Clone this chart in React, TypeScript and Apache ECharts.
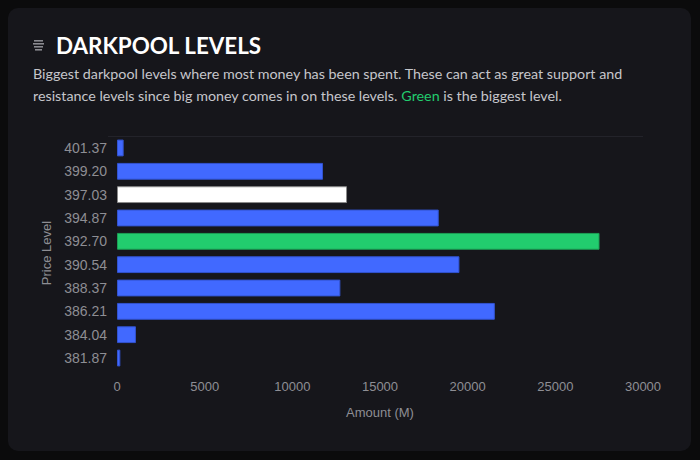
import React, { useEffect, useRef } from "react";
import * as echarts from "echarts";

const priceLevels = ["401.37", "399.20", "397.03", "394.87", "392.70", "390.54", "388.37", "386.21", "384.04", "381.87"];
const amounts = [380, 11750, 13120, 18350, 27520, 19530, 12740, 21550, 1080, 190];
const barKinds = ["normal", "normal", "current", "normal", "biggest", "normal", "normal", "normal", "normal", "normal"];
const xTicks = [0, 5000, 10000, 15000, 20000, 25000, 30000];

const FILL: Record<string, string> = { normal: "#4169ff", current: "#ffffff", biggest: "#22cc6e" };
const EDGE: Record<string, string> = { normal: "#3253d0", current: "#8a8a8a", biggest: "#1d9e55" };

export default function App() {
  const ref = useRef<HTMLDivElement>(null);
  useEffect(() => {
    if (!ref.current) return;
    const chart = echarts.init(ref.current, undefined, { renderer: "svg" });
    const font = "Lato, 'Open Sans', sans-serif";
    const axisFont = "'Liberation Sans', Arial, sans-serif";
    chart.setOption({
      animation: false,
      backgroundColor: "transparent",
      grid: { left: 117, right: 57, top: 136.3, bottom: 90.3, containLabel: false },
      xAxis: {
        type: "value",
        min: xTicks[0],
        max: xTicks[xTicks.length - 1],
        interval: 5000,
        name: "Amount (M)",
        nameLocation: "middle",
        nameGap: 36,
        nameTextStyle: { color: "#8e8e94", fontSize: 13, fontFamily: axisFont },
        axisLine: { show: false },
        axisTick: { show: false },
        splitLine: { show: false },
        axisLabel: {
          color: "#8e8e94",
          fontSize: 13,
          margin: 10,
          fontFamily: axisFont,
          formatter: (v: number) => String(v),
        },
      },
      yAxis: {
        type: "category",
        data: priceLevels,
        inverse: true,
        name: "Price Level",
        nameLocation: "middle",
        nameGap: 64,
        nameTextStyle: { color: "#8e8e94", fontSize: 13, fontFamily: axisFont },
        axisLine: { show: false },
        axisTick: { show: false },
        splitLine: { show: false },
        axisLabel: { color: "#8e8e94", fontSize: 14, margin: 10, fontFamily: axisFont },
      },
      series: [
        {
          type: "bar",
          barCategoryGap: "28%",
          data: amounts.map((v, i) => ({
            value: v,
            itemStyle: { color: FILL[barKinds[i]], borderColor: EDGE[barKinds[i]], borderWidth: 1 },
          })),
        },
      ],
      graphic: [
        {
          type: "line",
          shape: { x1: 108, y1: 136.5, x2: 643, y2: 136.5 },
          style: { stroke: "#23232a", lineWidth: 1 },
          silent: true,
        },
        {
          type: "group",
          children: [
            { type: "rect", shape: { x: 34, y: 40, width: 9, height: 1.6 }, style: { fill: "#8a8a90" } },
            { type: "rect", shape: { x: 33, y: 43, width: 11, height: 1.6 }, style: { fill: "#8a8a90" } },
            { type: "rect", shape: { x: 34, y: 46, width: 9, height: 1.6 }, style: { fill: "#8a8a90" } },
            { type: "rect", shape: { x: 35, y: 49, width: 7, height: 1.6 }, style: { fill: "#8a8a90" } },
          ],
        },
        {
          type: "text",
          x: 56,
          y: 45,
          style: {
            text: "DARKPOOL LEVELS",
            fill: "#ffffff",
            font: "bold 22.4px " + font,
            verticalAlign: "middle",
            textAlign: "left",
          },
        },
        {
          type: "text",
          x: 33,
          y: 73,
          style: {
            text: "Biggest darkpool levels where most money has been spent. These can act as great support and",
            fill: "#c6c6cb",
            font: "14.3px " + font,
            verticalAlign: "middle",
          },
        },
        {
          type: "text",
          x: 33,
          y: 95,
          style: {
            text: "{a|resistance levels since big money comes in on these levels. }{g|Green}{a| is the biggest level.}",
            verticalAlign: "middle",
            rich: {
              a: { fill: "#c6c6cb", font: "14.3px " + font },
              g: { fill: "#22cc6e", font: "14.3px " + font },
            },
          },
        },
      ],
    });
    return () => chart.dispose();
  }, []);

  return (
    <div style={{ position: "fixed", left: 0, top: 0, width: 700, height: 460, background: "#0b0b0c" }}>
      <div
        style={{
          position: "absolute",
          left: 8,
          top: 8,
          width: 683,
          height: 443,
          borderRadius: 10,
          background: "#16161b",
        }}
      />
      <div ref={ref} style={{ position: "absolute", left: 0, top: 0, width: 700, height: 460 }} />
    </div>
  );
}
